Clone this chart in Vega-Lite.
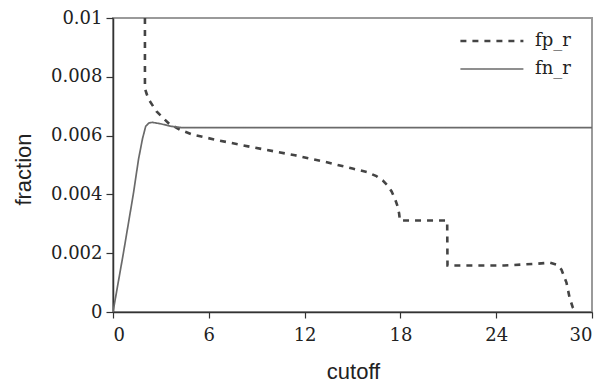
{
  "$schema": "https://vega.github.io/schema/vega-lite/v6.json",
  "width": 479,
  "height": 294,
  "autosize": {"type": "none"},
  "padding": {"left": 113, "top": 18, "right": 15, "bottom": 72},
  "background": "white",
  "config": {
    "view": {"stroke": "#9a9a9a", "strokeWidth": 2},
    "axis": {
      "grid": false,
      "domainColor": "#333",
      "domainWidth": 1.5,
      "tickColor": "#333",
      "tickWidth": 1.2,
      "labelFont": "DejaVu Serif",
      "labelFontSize": 18,
      "labelColor": "#222",
      "titleFont": "Liberation Sans",
      "titleFontSize": 22,
      "titleFontWeight": "normal",
      "titleColor": "#222"
    },
    "legend": {
      "labelFont": "DejaVu Serif",
      "labelFontSize": 18,
      "labelColor": "#222"
    }
  },
  "data": {
    "values": [
      {"series": "fp_r", "cutoff": 2.0, "fraction": 0.0100},
      {"series": "fp_r", "cutoff": 2.0, "fraction": 0.0076},
      {"series": "fp_r", "cutoff": 2.12, "fraction": 0.0074},
      {"series": "fp_r", "cutoff": 2.27, "fraction": 0.0072},
      {"series": "fp_r", "cutoff": 2.73, "fraction": 0.00682},
      {"series": "fp_r", "cutoff": 3.46, "fraction": 0.00643},
      {"series": "fp_r", "cutoff": 4.19, "fraction": 0.0062},
      {"series": "fp_r", "cutoff": 5.0, "fraction": 0.00603},
      {"series": "fp_r", "cutoff": 6.5, "fraction": 0.00585},
      {"series": "fp_r", "cutoff": 8.68, "fraction": 0.00561},
      {"series": "fp_r", "cutoff": 11.4, "fraction": 0.00533},
      {"series": "fp_r", "cutoff": 13.17, "fraction": 0.00512},
      {"series": "fp_r", "cutoff": 15.0, "fraction": 0.00488},
      {"series": "fp_r", "cutoff": 15.9, "fraction": 0.00476},
      {"series": "fp_r", "cutoff": 16.5, "fraction": 0.00462},
      {"series": "fp_r", "cutoff": 16.9, "fraction": 0.00447},
      {"series": "fp_r", "cutoff": 17.2, "fraction": 0.0043},
      {"series": "fp_r", "cutoff": 17.45, "fraction": 0.0041},
      {"series": "fp_r", "cutoff": 17.66, "fraction": 0.00385},
      {"series": "fp_r", "cutoff": 17.82, "fraction": 0.0036},
      {"series": "fp_r", "cutoff": 17.92, "fraction": 0.00335},
      {"series": "fp_r", "cutoff": 17.97, "fraction": 0.00311},
      {"series": "fp_r", "cutoff": 20.93, "fraction": 0.00311},
      {"series": "fp_r", "cutoff": 20.95, "fraction": 0.00158},
      {"series": "fp_r", "cutoff": 24.5, "fraction": 0.00158},
      {"series": "fp_r", "cutoff": 26.5, "fraction": 0.00164},
      {"series": "fp_r", "cutoff": 27.36, "fraction": 0.00168},
      {"series": "fp_r", "cutoff": 27.8, "fraction": 0.00161},
      {"series": "fp_r", "cutoff": 28.09, "fraction": 0.00144},
      {"series": "fp_r", "cutoff": 28.4, "fraction": 0.001},
      {"series": "fp_r", "cutoff": 28.6, "fraction": 0.00048},
      {"series": "fp_r", "cutoff": 28.8, "fraction": 0.00015},
      {"series": "fp_r", "cutoff": 29.0, "fraction": 0.0},
      {"series": "fn_r", "cutoff": 0.0, "fraction": 0.0},
      {"series": "fn_r", "cutoff": 0.65, "fraction": 0.002},
      {"series": "fn_r", "cutoff": 1.27, "fraction": 0.004},
      {"series": "fn_r", "cutoff": 1.6, "fraction": 0.0052},
      {"series": "fn_r", "cutoff": 1.85, "fraction": 0.0059},
      {"series": "fn_r", "cutoff": 2.05, "fraction": 0.00632},
      {"series": "fn_r", "cutoff": 2.25, "fraction": 0.00643},
      {"series": "fn_r", "cutoff": 2.45, "fraction": 0.00645},
      {"series": "fn_r", "cutoff": 3.0, "fraction": 0.0064},
      {"series": "fn_r", "cutoff": 3.6, "fraction": 0.00632},
      {"series": "fn_r", "cutoff": 4.3, "fraction": 0.00627},
      {"series": "fn_r", "cutoff": 30.0, "fraction": 0.00627}
    ]
  },
  "mark": {"type": "line", "clip": true, "strokeCap": "butt"},
  "encoding": {
    "x": {
      "field": "cutoff",
      "type": "quantitative",
      "scale": {"domain": [0, 30], "nice": false, "zero": false},
      "axis": {
        "values": [0, 6, 12, 18, 24, 30],
        "tickSize": 6,
        "labelPadding": 8,
        "title": "cutoff",
        "titleX": 240,
        "titleY": 71,
        "titleBaseline": "bottom",
        "titleAnchor": "middle"
      }
    },
    "y": {
      "field": "fraction",
      "type": "quantitative",
      "scale": {"domain": [0, 0.01], "nice": false},
      "axis": {
        "values": [0, 0.002, 0.004, 0.006, 0.008, 0.01],
        "format": "~g",
        "tickSize": 7,
        "labelPadding": 4,
        "title": "fraction",
        "titleX": -83,
        "titleY": 151,
        "titleBaseline": "alphabetic",
        "titleAnchor": "middle"
      }
    },
    "color": {
      "field": "series",
      "type": "nominal",
      "sort": ["fp_r", "fn_r"],
      "scale": {"domain": ["fp_r", "fn_r"], "range": ["#444444", "#6a6a6a"]},
      "legend": {
        "title": null,
        "orient": "none",
        "legendX": 400,
        "legendY": 14,
        "symbolType": "M-17.6,0H0.4",
        "symbolSize": 49,
        "symbolStrokeWidth": 2,
        "labelOffset": 4,
        "rowPadding": 10
      }
    },
    "strokeDash": {
      "field": "series",
      "type": "nominal",
      "sort": ["fp_r", "fn_r"],
      "scale": {"domain": ["fp_r", "fn_r"], "range": [[6, 6], [1, 0]]}
    },
    "strokeWidth": {
      "field": "series",
      "type": "nominal",
      "scale": {"domain": ["fp_r", "fn_r"], "range": [2.6, 1.7]},
      "legend": null
    }
  }
}
